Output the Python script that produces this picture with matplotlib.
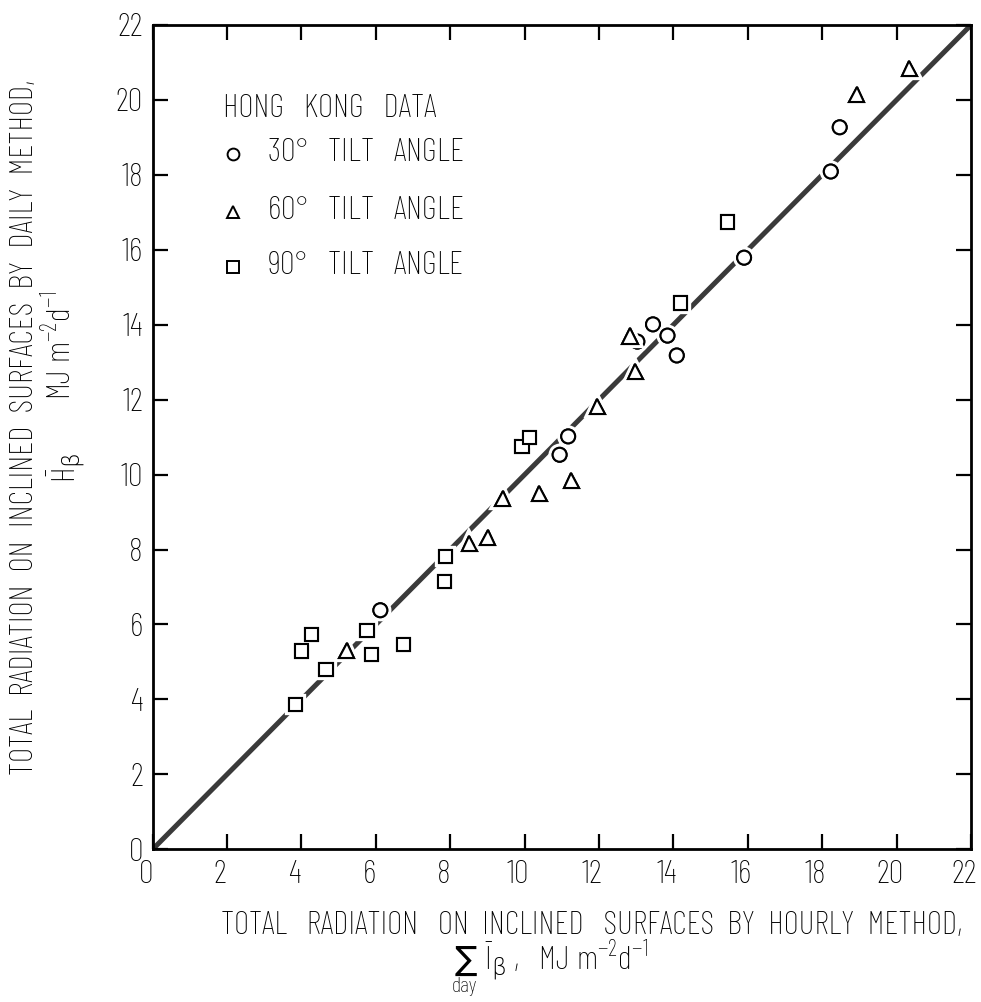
import matplotlib
matplotlib.use("Agg")
import matplotlib.pyplot as plt
import matplotlib.patheffects as pe
import matplotlib.transforms as mtransforms

# ---- data ----
x30 = [6.12, 10.94, 11.17, 13.03, 13.45, 13.84, 14.09, 15.90, 18.23, 18.47]
y30 = [6.38, 10.53, 11.02, 13.55, 14.01, 13.71, 13.18, 15.79, 18.09, 19.27]

x60 = [5.22, 8.51, 9.01, 9.41, 10.39, 11.25, 11.95, 12.83, 12.98, 18.93, 20.34]
y60 = [5.31, 8.16, 8.32, 9.36, 9.49, 9.85, 11.82, 13.70, 12.75, 20.14, 20.83]

x90 = [3.83, 4.00, 4.26, 4.66, 5.76, 5.89, 6.75, 7.84, 7.87, 9.93, 10.12, 14.19, 15.45]
y90 = [3.87, 5.29, 5.73, 4.80, 5.85, 5.20, 5.47, 7.14, 7.82, 10.75, 11.00, 14.58, 16.74]

line_x = [0, 22]
line_y = [0, 22]

ticks = list(range(0, 23, 2))
legend_title = "HONG   KONG   DATA"
legend_labels = ["30$^{\\circ}$   TILT   ANGLE", "60$^{\\circ}$   TILT   ANGLE", "90$^{\\circ}$   TILT   ANGLE"]
xlabel1 = "TOTAL   RADIATION   ON  INCLINED   SURFACES  BY  HOURLY  METHOD,"
ylabel1 = "TOTAL  RADIATION  ON  INCLINED  SURFACES  BY  DAILY  METHOD,"

# ---- font ----
FAM = ['Barlow Condensed', 'DejaVu Sans']
plt.rcParams['font.family'] = FAM
plt.rcParams['font.weight'] = 'light'
plt.rcParams['mathtext.fontset'] = 'custom'
plt.rcParams['mathtext.rm'] = 'Barlow Condensed:light'
plt.rcParams['mathtext.it'] = 'DejaVu Sans'
plt.rcParams['mathtext.fallback'] = 'cm'

W, H = 981, 1002
fig = plt.figure(figsize=(W/100, H/100), dpi=100)
X0, X1, Y0, Y1 = 152.7, 971.0, 849.3, 25.0
ax = fig.add_axes([X0/W, 1-Y0/H, (X1-X0)/W, (Y0-Y1)/H])

ax.plot(line_x, line_y, color='#3a3a3a', lw=3.6, zorder=1, solid_capstyle='butt')

halo = [pe.withStroke(linewidth=6, foreground='white'), pe.Normal()]
common = dict(linestyle='none', markerfacecolor='white', markeredgecolor='black',
              markeredgewidth=1.5, zorder=3)
ax.plot(x30, y30, marker='o', markersize=10, path_effects=halo, **common)
ax.plot(x60, y60, marker='^', markersize=11, path_effects=halo, **common)
ax.plot(x90, y90, marker='s', markersize=9.5, path_effects=halo, **common)

ax.set_xlim(0, 22)
ax.set_ylim(0, 22)
ax.set_xticks(ticks)
ax.set_yticks(ticks)
ax.tick_params(direction='in', length=11, width=1.6, top=True, right=True,
               labelsize=24)
ax.tick_params(axis='x', pad=8)
ax.tick_params(axis='y', pad=7)
for s in ax.spines.values():
    s.set_linewidth(2.0)
shift = mtransforms.ScaledTranslation(-7/100, 0, fig.dpi_scale_trans)
for lab in ax.get_xticklabels():
    lab.set_transform(lab.get_transform() + shift)

# legend as text
ax.text(1.88, 19.77, legend_title, fontsize=24, ha='left', va='center')
ly = [18.56, 17.0, 15.54]
mk = ['o', '^', 's']
for yy, m, lab in zip(ly, mk, legend_labels):
    ax.plot([2.16], [yy], marker=m, markersize=8.5, markerfacecolor='white',
            markeredgecolor='black', markeredgewidth=1.4, linestyle='none')
    ax.text(3.07, yy, lab, fontsize=24, ha='left', va='center')

# axis labels
fig.text(592/W, 1-926/H, xlabel1, fontsize=24, ha='center', va='center')
fig.text(466/W, 1-960/H, "\u2211", fontsize=24, ha='center', va='center',
         family=['DejaVu Sans'], fontweight='normal')
fig.text(464/W, 1-987/H, "day", fontsize=16, ha='center', va='center')
fig.text(484/W, 1-969/H, "$\\bar{\\mathrm{I}}_{\\beta}$ ,   MJ m$^{-2}$d$^{-1}$",
         fontsize=24, ha='left', va='baseline')
fig.text(25/W, 1-427/H, ylabel1, fontsize=24, ha='center', va='center', rotation=90)
fig.text(60/W, 1-345/H, "MJ m$^{-2}$d$^{-1}$", fontsize=24, ha='center', va='center', rotation=90)
fig.text(66/W, 1-468/H, "$\\bar{\\mathrm{H}}_{\\beta}$", fontsize=24, ha='center', va='center', rotation=90)

fig.savefig("out.png", dpi=100)
